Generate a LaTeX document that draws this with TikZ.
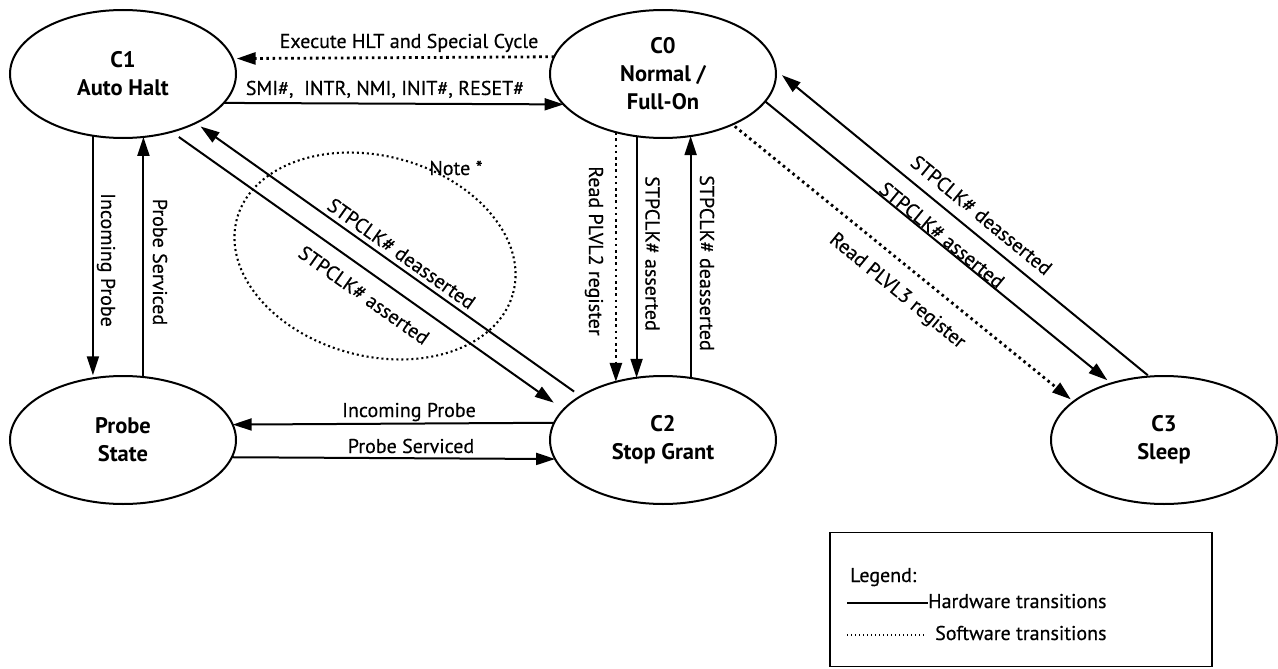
\documentclass[tikz,border=0pt]{standalone}
\usepackage{fontspec}
\setmainfont{PT Sans}
\newfontfamily\lblfont[FakeBold=0.4]{PT Sans}
\usetikzlibrary{arrows.meta,shapes.geometric}
\begin{document}
\begin{tikzpicture}[x=1pt,y=-1pt,
  state/.style={draw, ellipse, line width=2pt, minimum width=226pt, minimum height=128pt,
    inner sep=0pt, outer sep=0pt, align=center, font=\fontsize{22.5}{28}\selectfont\bfseries},
  hard/.style={line width=2pt, -{Triangle[length=19pt,width=12pt]}},
  soft/.style={line width=2.8pt, dash pattern=on 2.6pt off 3.6pt, -{Triangle[length=19pt,width=12pt]}},
  lbl/.style={inner sep=0pt, font=\lblfont\fontsize{20}{22}\selectfont},
  legtext/.style={inner sep=0pt, anchor=base west, font=\lblfont\fontsize{20}{22}\selectfont},
]
\useasboundingbox (0,0) rectangle (1278,669);

% states
\node[state] (C1) at (123,74) {C1\\Auto Halt};
\node[state] (C0) at (663,74) {C0\\Normal /\\Full-On};
\node[state] (PS) at (123,440) {Probe\\State};
\node[state] (C2) at (663,440) {C2\\Stop Grant};
\node[state] (C3) at (1164,440) {C3\\Sleep};

% note
\node[draw, ellipse, line width=2.1pt, dash pattern=on 2pt off 3pt, minimum width=286pt,
  minimum height=200pt, inner sep=0pt, rotate=-15] (note) at (375,256) {};
\node[lbl, anchor=base] (notetext) at (456,175) {Note *};

% C0 <-> C1
\draw[soft, shorten >=4pt] (C0.171.13) -- (C1.8.87);
\node[lbl, anchor=base] (l1) at (409,48) {Execute HLT and Special Cycle};
\draw[hard] (C1.-16.07) -- (C0.-163.93);
\node[lbl, anchor=base] (l2) at (385,95) {SMI\#,\ \ INTR, NMI, INIT\#, RESET\#};

% C1 <-> Probe
\draw[hard, shorten >=3pt] (C1.-116.75) -- (PS.116.75);
\node[lbl, rotate=-90] (l3) at (106,260) {Incoming Probe};
\draw[hard] (PS.72.39) -- (C1.-72.39);
\node[lbl, rotate=-90] (l4) at (160,262) {Probe Serviced};

% C2 <-> Probe
\draw[hard] (C2.171.13) -- (PS.8.87);
\node[lbl, anchor=base] (l5) at (409,417) {Incoming Probe};
\draw[hard] (PS.-9.43) -- (C2.-170.57);
\node[lbl, anchor=base] (l6) at (411,453) {Probe Serviced};

% C1 <-> C2
\draw[hard, shorten <=8pt, shorten >=6pt] (C2.152.59) -- (C1.-34.49);
\draw[hard, shorten <=9pt, shorten >=12pt] (C1.-50.45) -- (C2.163.35);
\node[lbl, rotate=-35.4] (l7) at (401.5,253.5) {STPCLK\# deasserted};
\node[lbl, rotate=-35.4] (l8) at (364,295) {STPCLK\# asserted};

% C0 <-> C2
\draw[soft] (C0.-129.66) -- (C2.129.66);
\draw[hard] (C0.-113.5) -- (C2.113.5);
\draw[hard] (C2.66.5) -- (C0.-66.5);
\node[lbl, rotate=-90] (l9) at (594,251) {Read PLVL2 register};
\node[lbl, rotate=-90] (l10) at (652.5,253.5) {STPCLK\# asserted};
\node[lbl, rotate=-90] (l11) at (707,263) {STPCLK\# deasserted};

% C0 <-> C3
\draw[hard, shorten <=2pt, shorten >=8pt] (C3.103.4) -- (C0.2.08);
\draw[hard, shorten >=5pt] (C0.-15.66) -- (C3.133.0);
\draw[soft, shorten <=3pt, shorten >=3.5pt] (C0.-36.21) -- (C3.157.49);
\node[lbl, rotate=-39.4] (l12) at (981.5,215) {STPCLK\# deasserted};
\node[lbl, rotate=-39.4] (l13) at (942,235) {STPCLK\# asserted};
\node[lbl, rotate=-39.4] (l14) at (897,291.5) {Read PLVL3 register};

% legend
\node[draw, line width=1.6pt, minimum width=382pt, minimum height=134pt, inner sep=0pt] (legend) at (1021,599.5) {};
\node[legtext] (lg1) at (850,582) {Legend:};
\draw[line width=1.5pt] (847,603) -- (928,603);
\node[legtext] (lg2) at (928,608) {Hardware transitions};
\draw[line width=1.4pt, dash pattern=on 1.4pt off 2.6pt] (847,635) -- (926,635);
\node[legtext] (lg3) at (935,640) {Software transitions};
\end{tikzpicture}
\end{document}
